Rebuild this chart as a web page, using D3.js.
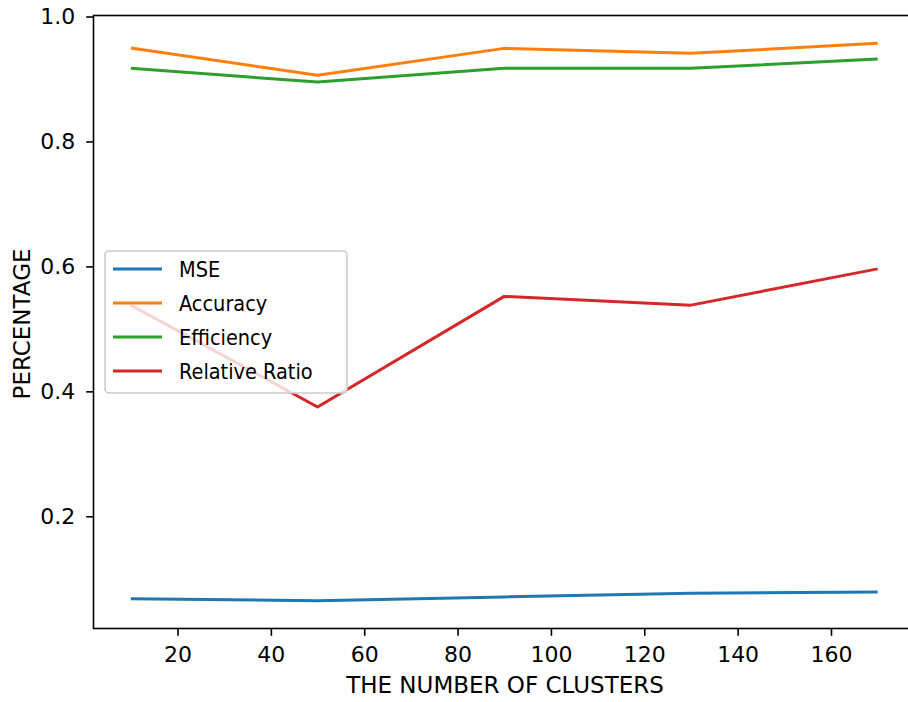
<!DOCTYPE html>
<html>
<head>
<meta charset="utf-8">
<script src="https://cdn.jsdelivr.net/npm/d3@7"></script>
<style>
  body { margin: 0; background: #fff; }
  svg text { font-family: "DejaVu Sans", sans-serif; fill: #000; }
  .legend-label { font-family: "DejaVu Sans Condensed", "DejaVu Sans", sans-serif; font-stretch: condensed; }
</style>
</head>
<body>
<svg id="chart" width="908" height="702"></svg>
<script>
// data
const clusters = [10, 50, 90, 130, 170];
const mse = [0.068, 0.065, 0.071, 0.077, 0.079];
const accuracy = [0.9495, 0.906, 0.949, 0.941, 0.957];
const efficiency = [0.917, 0.895, 0.917, 0.917, 0.932];
const relativeRatio = [0.538, 0.375, 0.552, 0.538, 0.596];
const xTicks = [20, 40, 60, 80, 100, 120, 140, 160];
const yTicks = [0.2, 0.4, 0.6, 0.8, 1.0];

const seriesNames = ['MSE', 'Accuracy', 'Efficiency', 'Relative Ratio'];
const seriesValues = [mse, accuracy, efficiency, relativeRatio];
const colors = ['#1f77b4', '#ff7f0e', '#2ca02c', '#d62728'];

const svg = d3.select('#chart');
const plot = { left: 93.5, top: 15.5, right: 915, bottom: 628.5 };
const tickFont = 22;
const labelFont = 23;
const legendFont = 21.5;

// scales with matplotlib-like 5% margins
const all = seriesValues.flat();
const yMin = d3.min(all), yMax = d3.max(all);
const yPad = (yMax - yMin) * 0.05;
const x = d3.scaleLinear().domain([2, 178]).range([plot.left, plot.right]);
const y = d3.scaleLinear().domain([yMin - yPad, yMax + yPad]).range([plot.bottom, plot.top]);

// lines
const line = d3.line()
  .x((d, i) => x(clusters[i]))
  .y(d => y(d));

seriesValues.forEach((vals, k) => {
  svg.append('path')
    .datum(vals)
    .attr('d', line)
    .attr('fill', 'none')
    .attr('stroke', colors[k])
    .attr('stroke-width', 3)
    .attr('stroke-linejoin', 'round');
});

// axes
const xAxis = d3.axisBottom(x).tickValues(xTicks).tickSize(7.3).tickFormat(d3.format('d'));
const yAxis = d3.axisLeft(y).tickValues(yTicks).tickSize(7.3).tickPadding(11).tickFormat(d3.format('.1f'));

const gx = svg.append('g')
  .attr('transform', `translate(0,${plot.bottom})`)
  .call(xAxis);
const gy = svg.append('g')
  .attr('transform', `translate(${plot.left},0)`)
  .call(yAxis);

[gx, gy].forEach(g => {
  g.select('.domain').remove();
  g.selectAll('.tick line').attr('stroke', '#000').attr('stroke-width', 1.6);
  g.selectAll('.tick text')
    .attr('font-size', tickFont)
    .attr('font-family', '"DejaVu Sans", sans-serif')
    .attr('fill', '#000');
});
gx.selectAll('.tick text').attr('dy', null).attr('y', 33.5);

// spines
svg.append('rect')
  .attr('x', plot.left)
  .attr('y', plot.top)
  .attr('width', plot.right - plot.left)
  .attr('height', plot.bottom - plot.top)
  .attr('fill', 'none')
  .attr('stroke', '#000')
  .attr('stroke-width', 1.6);

// axis titles
svg.append('text')
  .attr('x', 505)
  .attr('y', 693)
  .attr('text-anchor', 'middle')
  .attr('font-size', labelFont)
  .text('THE NUMBER OF CLUSTERS');

svg.append('text')
  .attr('transform', `translate(29.5,324) rotate(-90)`)
  .attr('text-anchor', 'middle')
  .attr('font-size', labelFont)
  .text('PERCENTAGE');

// legend
const legend = svg.append('g').attr('transform', 'translate(105,251)');
legend.append('rect')
  .attr('width', 242)
  .attr('height', 142)
  .attr('rx', 4)
  .attr('fill', '#fff')
  .attr('fill-opacity', 0.8)
  .attr('stroke', '#cccccc')
  .attr('stroke-width', 1.6);

seriesNames.forEach((name, k) => {
  const row = legend.append('g').attr('transform', `translate(0,${18 + k * 34})`);
  row.append('line')
    .attr('x1', 8).attr('x2', 57)
    .attr('stroke', colors[k])
    .attr('stroke-width', 3);
  row.append('text')
    .attr('class', 'legend-label')
    .attr('x', 74)
    .attr('y', 7.5)
    .attr('font-size', legendFont)
    .text(name);
});
</script>
</body>
</html>
